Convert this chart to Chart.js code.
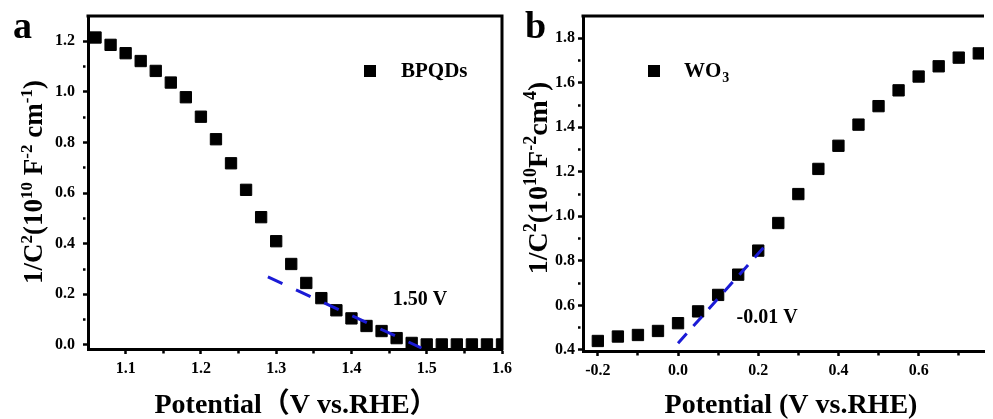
<!DOCTYPE html>
<html>
<head>
<meta charset="utf-8">
<script src="https://cdn.jsdelivr.net/npm/chart.js@4.4.1/dist/chart.umd.min.js"></script>
<style>
  body { margin: 0; background: #fff; width: 993px; height: 419px; overflow: hidden; position: relative; }
  canvas { position: absolute; top: 0; }
</style>
</head>
<body>
<canvas id="chartA" width="520" height="419" style="left:0px"></canvas>
<canvas id="chartB" width="488" height="419" style="left:505px"></canvas>
<script>
// panel a: BPQDs
const potentialA = [1.06, 1.08, 1.10, 1.12, 1.14, 1.16, 1.18, 1.20, 1.22, 1.24, 1.26, 1.28, 1.30, 1.32,
  1.34, 1.36, 1.38, 1.40, 1.42, 1.44, 1.46, 1.48, 1.50, 1.52, 1.54, 1.56, 1.58, 1.60];
const invCapA = [1.215, 1.186, 1.153, 1.122, 1.083, 1.037, 0.979, 0.902, 0.813, 0.718, 0.613, 0.505, 0.41, 0.32,
  0.245, 0.185, 0.137, 0.105, 0.075, 0.055, 0.027, 0.008, 0.002, 0.002, 0.002, 0.002, 0.002, 0.002];
const fitPotentialA = [1.289, 1.493];
const fitInvCapA = [0.269, -0.012];
const xMajorA = [1.1, 1.2, 1.3, 1.4, 1.5, 1.6];
const xMinorA = [1.15, 1.25, 1.35, 1.45, 1.55];
const yMajorA = [0.0, 0.2, 0.4, 0.6, 0.8, 1.0, 1.2];
const yMinorA = [0.1, 0.3, 0.5, 0.7, 0.9, 1.1];

// panel b: WO3
const potentialB = [-0.20, -0.15, -0.10, -0.05, 0.00, 0.05, 0.10, 0.15, 0.20, 0.25,
  0.30, 0.35, 0.40, 0.45, 0.50, 0.55, 0.60, 0.65, 0.70, 0.75];
const invCapB = [0.44, 0.46, 0.467, 0.485, 0.52, 0.573, 0.647, 0.738, 0.846, 0.97,
  1.10, 1.213, 1.317, 1.412, 1.495, 1.566, 1.628, 1.674, 1.713, 1.732];
const fitPotentialB = [0.0, 0.22];
const fitInvCapB = [0.43, 0.873];
const xMajorB = [-0.2, 0.0, 0.2, 0.4, 0.6];
const xMinorB = [-0.1, 0.1, 0.3, 0.5, 0.7];
const yMajorB = [0.4, 0.6, 0.8, 1.0, 1.2, 1.4, 1.6, 1.8];
const yMinorB = [0.5, 0.7, 0.9, 1.1, 1.3, 1.5, 1.7];

// axis titles, split into [text, isSuperscript]
const yTitleA = [['1/C', 0], ['2', 1], ['(10', 0], ['10', 1], [' F', 0], ['-2', 1], [' cm', 0], ['-1', 1], [')', 0]];
const yTitleB = [['1/C', 0], ['2', 1], ['(10', 0], ['10', 1], ['F', 0], ['-2', 1], ['cm', 0], ['4', 1], [')', 0]];
const xTitleA = 'Potential（V vs.RHE）';
const xTitleB = 'Potential (V vs.RHE)';

const SERIF = "'Liberation Serif', 'Times New Roman', 'Noto Sans CJK SC', serif";
const BLUE = '#1b1bd6';

Chart.defaults.font.family = SERIF;
Chart.defaults.font.weight = 'bold';
Chart.defaults.color = '#000';

const toPoints = (xs, ys) => xs.map((x, i) => ({ x: x, y: ys[i] }));

function tickList(majors, minors) {
  return majors.map(v => ({ value: v, isMajor: true }))
    .concat(minors.map(v => ({ value: v, isMajor: false })))
    .sort((a, b) => a.value - b.value);
}

// axis with hand-placed major/minor ticks
function axis(cfg) {
  return {
    type: 'linear',
    min: cfg.min,
    max: cfg.max,
    afterBuildTicks: (scale) => { scale.ticks = tickList(cfg.majors, cfg.minors); },
    afterFit: (scale) => {
      if (cfg.width) scale.width = cfg.width;
      if (cfg.height) scale.height = cfg.height;
      scale.paddingLeft = scale.paddingRight = 0;
      scale.paddingTop = scale.paddingBottom = 0;
    },
    border: { display: true, width: 3, color: '#000' },
    grid: {
      display: true,
      drawOnChartArea: false,
      drawTicks: true,
      tickLength: 5,
      tickColor: '#000',
      tickWidth: 2.5,
      tickBorderDash: (ctx) => (ctx.tick && ctx.tick.isMajor) ? [] : [2.5, 20],
    },
    ticks: {
      autoSkip: false,
      maxRotation: 0,
      padding: cfg.tickPad,
      font: { size: 16, weight: 'bold' },
      callback: (value, index, ticks) => ticks[index].isMajor ? value.toFixed(1) : '',
    },
    title: { display: false },
  };
}

function drawRich(ctx, parts, size, supSize) {
  const widths = parts.map(([t, sup]) => {
    ctx.font = 'bold ' + (sup ? supSize : size) + 'px ' + SERIF;
    return ctx.measureText(t).width;
  });
  let x = -widths.reduce((a, b) => a + b, 0) / 2;
  parts.forEach(([t, sup], i) => {
    ctx.font = 'bold ' + (sup ? supSize : size) + 'px ' + SERIF;
    ctx.fillText(t, x, sup ? -size * 0.38 : 0);
    x += widths[i];
  });
}

const decorPlugin = {
  id: 'decor',
  afterDraw(chart, args, opts) {
    const ctx = chart.ctx;
    const { top, left, right, bottom } = chart.chartArea;
    const xs = chart.scales.x;
    const ys = chart.scales.y;
    ctx.save();
    // frame top (and right)
    ctx.strokeStyle = '#000';
    ctx.lineWidth = 3;
    ctx.beginPath();
    ctx.moveTo(left - 1.5, top);
    ctx.lineTo(right, top);
    if (opts.rightFrame) ctx.lineTo(right, bottom + 1.5);
    ctx.stroke();

    ctx.fillStyle = '#000';
    ctx.textBaseline = 'alphabetic';
    ctx.textAlign = 'left';

    // axis titles
    ctx.save();
    ctx.translate(opts.yTitleX, opts.yTitleY);
    ctx.rotate(-Math.PI / 2);
    drawRich(ctx, opts.yTitle, opts.yTitleSize, opts.yTitleSup);
    ctx.restore();
    ctx.textAlign = 'center';
    ctx.font = 'bold 28px ' + SERIF;
    ctx.fillText(opts.xTitle, opts.xTitleX, 413);
    ctx.textAlign = 'left';

    // panel letter
    ctx.font = 'bold 38px ' + SERIF;
    ctx.fillText(opts.letter, opts.letterX, 38);

    // legend
    ctx.fillRect(opts.legendX - 6, opts.legendY - 6, 12, 12);
    ctx.textBaseline = 'middle';
    ctx.font = 'bold 21px ' + SERIF;
    ctx.fillText(opts.legendText, opts.legendTextX, opts.legendY + 1);
    if (opts.legendSub) {
      const w = ctx.measureText(opts.legendText).width;
      ctx.font = 'bold 14px ' + SERIF;
      ctx.fillText(opts.legendSub, opts.legendTextX + w + 1, opts.legendY + 7);
    }

    // intercept note
    ctx.font = 'bold 20px ' + SERIF;
    ctx.fillText(opts.note, xs.getPixelForValue(opts.noteAt[0]), ys.getPixelForValue(opts.noteAt[1]));
    ctx.restore();
  }
};

function makeChart(id, pts, fit, opts) {
  return new Chart(document.getElementById(id), {
    type: 'scatter',
    data: {
      datasets: [
        {
          label: 'fit',
          data: fit,
          showLine: true,
          borderColor: BLUE,
          borderWidth: 3,
          borderDash: opts.dash,
          pointRadius: 0,
        },
        {
          label: opts.name,
          data: pts,
          pointStyle: 'rect',
          pointRadius: 8,
          backgroundColor: '#000',
          borderColor: '#000',
          borderWidth: 1,
        },
      ],
    },
    options: {
      responsive: false,
      animation: false,
      devicePixelRatio: 1,
      layout: { padding: opts.padding },
      plugins: {
        legend: { display: false },
        tooltip: { enabled: false },
        decor: opts.decor,
      },
      scales: { x: opts.x, y: opts.y },
    },
    plugins: [decorPlugin],
  });
}

makeChart('chartA', toPoints(potentialA, invCapA), toPoints(fitPotentialA, fitInvCapA), {
  name: 'BPQDs',
  dash: [16, 15],
  padding: { left: 0, right: 18, top: 16, bottom: 0 },
  x: axis({ min: 1.05, max: 1.6, majors: xMajorA, minors: xMinorA, height: 70, tickPad: 5 }),
  y: axis({ min: -0.016, max: 1.3, majors: yMajorA, minors: yMinorA, width: 88, tickPad: 8 }),
  decor: { rightFrame: true, letter: 'a', letterX: 13, legendX: 370, legendY: 71, legendTextX: 401,
    legendText: 'BPQDs', note: '1.50 V', noteAt: [1.455, 0.178],
    xTitle: xTitleA, xTitleX: 296, yTitle: yTitleA, yTitleX: 42, yTitleY: 182, yTitleSize: 27, yTitleSup: 17 },
});

makeChart('chartB', toPoints(potentialB, invCapB), toPoints(fitPotentialB, fitInvCapB), {
  name: 'WO3',
  dash: [13, 10],
  padding: { left: 0, right: 0, top: 16, bottom: 0 },
  x: axis({ min: -0.237, max: 0.763, majors: xMajorB, minors: xMinorB, height: 68, tickPad: 5 }),
  y: axis({ min: 0.395, max: 1.9, majors: yMajorB, minors: yMinorB, width: 78, tickPad: 3 }),
  decor: { rightFrame: false, letter: 'b', letterX: 20, legendX: 149, legendY: 71, legendTextX: 179,
    legendText: 'WO', legendSub: '3', note: '-0.01 V', noteAt: [0.146, 0.544],
    xTitle: xTitleB, xTitleX: 286, yTitle: yTitleB, yTitleX: 42, yTitleY: 178, yTitleSize: 28, yTitleSup: 18 },
});
</script>
</body>
</html>
